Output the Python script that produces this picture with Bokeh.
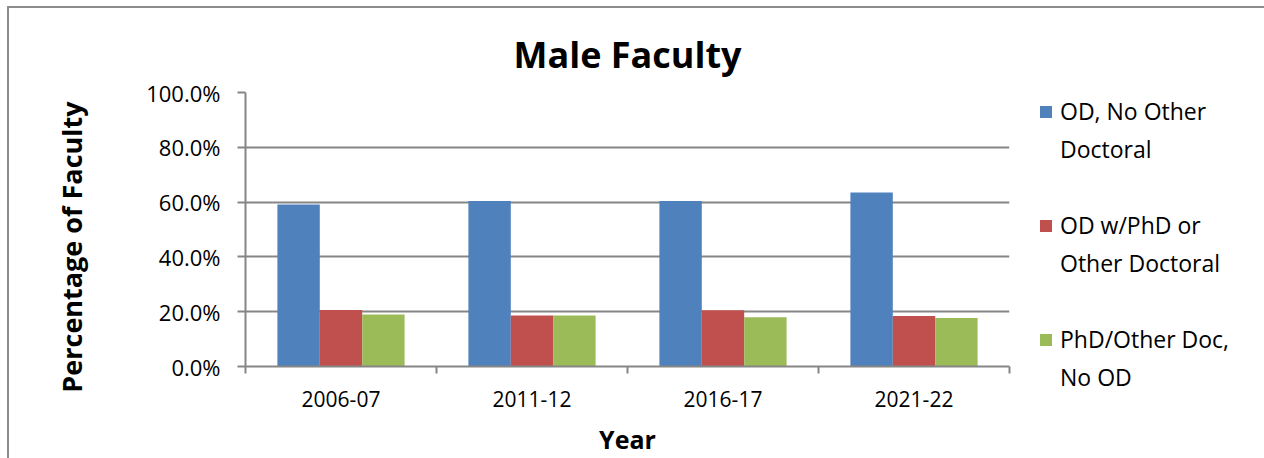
from bokeh.plotting import figure
from bokeh.models import (Range1d, FixedTicker, PrintfTickFormatter, Legend, LegendItem)
from bokeh.embed import file_html
from bokeh.resources import INLINE

# ---- data ----
years = ["2006-07", "2011-12", "2016-17", "2021-22"]
od_no_other = [59.1, 60.4, 60.4, 63.5]
od_with_phd = [20.6, 18.6, 20.5, 18.4]
phd_no_od = [19.0, 18.6, 18.0, 17.7]
series_labels = [["OD, No Other", "Doctoral"],
                 ["OD w/PhD or", "Other Doctoral"],
                 ["PhD/Other Doc,", "No OD"]]
y_ticks = [0, 20, 40, 60, 80, 100]

colors = ["#4F81BD", "#C0504D", "#9BBB59"]
FONT = "Open Sans"
GRAY = "#868686"
NB = "\u00a0"

p = figure(frame_width=764, frame_height=274, output_backend="svg", toolbar_location=None,
           x_range=Range1d(0, len(years)), y_range=Range1d(0, 100),
           min_border_left=236, min_border_right=255, min_border_top=84, min_border_bottom=92)
p.styles = {"margin-left": "7px", "margin-top": "6px",
            "border-top": "2px solid #8c8c8c", "border-left": "2px solid #8c8c8c"}
p.outline_line_color = None
p.background_fill_color = "white"
p.border_fill_color = "white"

bar_w = 0.222
offsets = [-bar_w, 0.0, bar_w]
renderers = []
for vals, off, col in zip([od_no_other, od_with_phd, phd_no_od], offsets, colors):
    xs = [i + 0.5 + off for i in range(len(years))]
    r = p.vbar(x=xs, top=vals, bottom=0, width=bar_w, fill_color=col, line_color=None)
    renderers.append(r)

# invisible renderer used for the continuation lines of the legend
blank = p.vbar(x=[], top=[], width=bar_w, fill_alpha=0, line_alpha=0)

# title
p.title.text = "Male Faculty"
p.title.text_font = FONT
p.title.text_font_style = "bold"
p.title.text_font_size = "36px"
p.title.text_color = "black"
p.title.align = "center"
p.title.offset = 5
p.title.standoff = 27

# y axis
ya = p.yaxis[0]
ya.ticker = FixedTicker(ticks=y_ticks)
ya.formatter = PrintfTickFormatter(format="%.1f%%")
ya.axis_line_color = GRAY
ya.axis_line_width = 2
ya.major_tick_line_color = GRAY
ya.major_tick_line_width = 2
ya.major_tick_in = 0
ya.major_tick_out = 8
ya.minor_tick_line_color = None
ya.major_label_text_font = FONT
ya.major_label_text_font_size = "22px"
ya.major_label_text_color = "black"
ya.major_label_standoff = 17
ya.axis_label = "Percentage of Faculty" + NB * 5
ya.axis_label_text_font = FONT
ya.axis_label_text_font_style = "bold"
ya.axis_label_text_font_size = "27px"
ya.axis_label_text_color = "black"
ya.axis_label_standoff = 53

# x axis
xa = p.xaxis[0]
xa.ticker = FixedTicker(ticks=[i + 0.5 for i in range(len(years))],
                        minor_ticks=list(range(len(years) + 1)))
xa.major_label_overrides = {i + 0.5: y for i, y in enumerate(years)}
xa.axis_line_color = GRAY
xa.axis_line_width = 2
xa.major_tick_line_color = None
xa.major_tick_in = 0
xa.major_tick_out = 0
xa.minor_tick_line_color = GRAY
xa.minor_tick_line_width = 2
xa.minor_tick_in = 0
xa.minor_tick_out = 7
xa.major_label_text_font = FONT
xa.major_label_text_font_size = "21px"
xa.major_label_text_color = "black"
xa.major_label_text_line_height = 1.0
xa.major_label_standoff = 17
xa.axis_label = "Year"
xa.axis_label_text_font = FONT
xa.axis_label_text_font_style = "bold"
xa.axis_label_text_font_size = "25px"
xa.axis_label_text_color = "black"
xa.axis_label_text_line_height = 1.0
xa.axis_label_standoff = 12

p.xgrid.grid_line_color = None
p.ygrid.grid_line_color = GRAY
p.ygrid.grid_line_width = 2

items = []
for k, ((first, second), r) in enumerate(zip(series_labels, renderers)):
    items.append(LegendItem(label=first, renderers=[r]))
    items.append(LegendItem(label=second, renderers=[blank]))
    if k < len(series_labels) - 1:
        items.append(LegendItem(label=NB, renderers=[blank]))

legend = Legend(items=items, location=(29, -27), orientation="vertical")
legend.label_text_font = FONT
legend.label_text_font_size = "23px"
legend.label_text_color = "black"
legend.glyph_width = 15
legend.glyph_height = 15
legend.label_height = 32
legend.label_standoff = 7
legend.spacing = 6
legend.padding = 0
legend.margin = 0
legend.border_line_color = None
legend.background_fill_alpha = 0
p.add_layout(legend, "right")

open("out.html", "w").write(file_html(p, INLINE))
